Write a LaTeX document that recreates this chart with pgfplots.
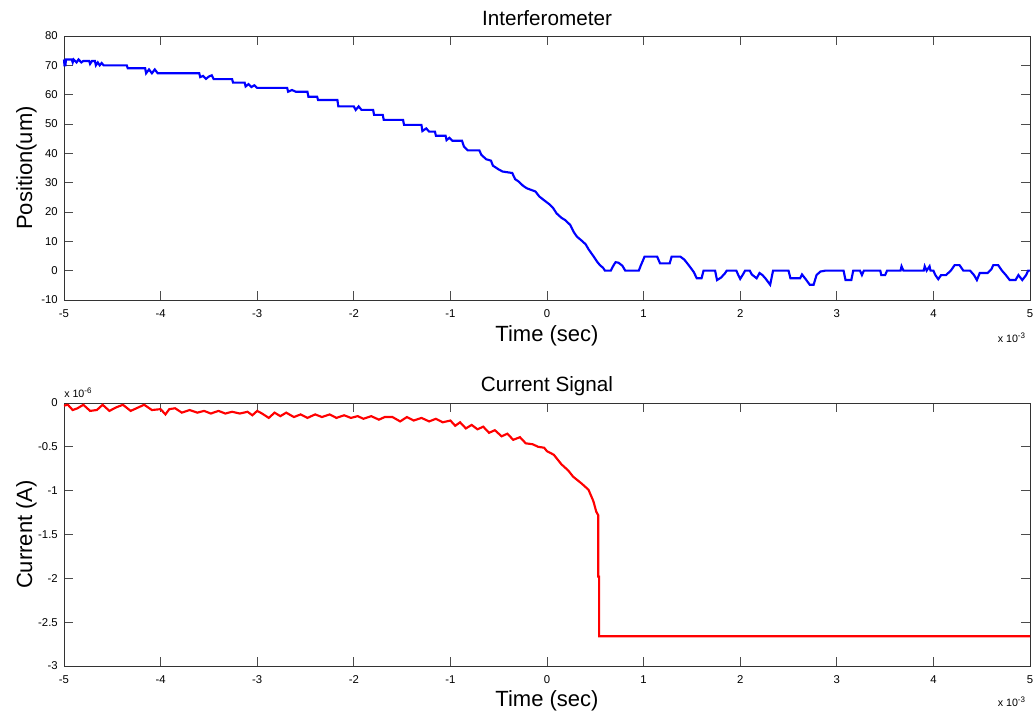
\documentclass[border=0pt]{standalone}
\usepackage{fontspec}
\setmainfont{Liberation Sans}
\usepackage{pgfplots}
\pgfplotsset{compat=1.18}

% MATLAB-like subplot style (1px of the reference = 0.75pt)
\pgfplotsset{mlab/.style={
    scale only axis, width=724.5pt, clip=false,
    xmin=-5, xmax=5, xtick={-5,...,5},
    axis line style={black!80, line width=0.75pt},
    tick style={black!70, line width=0.6pt},
    major tick length=7pt, tick align=inside,
    ticklabel style={font=\fontsize{8.5}{10}\selectfont},
    /pgf/number format/assume math mode=true,
    scaled ticks=false,
    xticklabel style={anchor=base, yshift=-12.75pt},
    yticklabel style={anchor=east, inner sep=0pt, xshift=-4.5pt},
}}
\newcommand{\ttl}{\fontsize{15.5}{18}\selectfont}
\newcommand{\lbl}{\fontsize{16.5}{19}\selectfont}
\newcommand{\sml}{\fontsize{8}{10}\selectfont}

\begin{document}
\begin{tikzpicture}
\useasboundingbox (0,0) rectangle (775.5pt,536.25pt);

% ---- Interferometer ----
\begin{axis}[mlab, at={(48pt,311.25pt)}, anchor=south west, height=198pt,
    ymin=-10, ymax=80, ytick={-10,0,...,80}]
  \addplot[color={rgb,255:red,0;green,0;blue,255}, line width=1.6pt] coordinates {
    (-5.00,72)(-4.995,70)(-4.985,70)(-4.98,72)(-4.92,72)(-4.91,71)(-4.90,72)(-4.87,71)(-4.85,72)
    (-4.82,71)(-4.80,71.5)(-4.74,71.5)(-4.73,70.5)(-4.71,71.5)(-4.68,71.5)(-4.67,70)(-4.65,71)
    (-4.63,70)(-4.61,70.8)(-4.59,70)(-4.35,70)(-4.34,69)(-4.16,69)(-4.15,67.3)(-4.12,68.6)
    (-4.09,67.3)(-4.06,68.6)(-4.03,67.3)(-3.60,67.3)(-3.59,66)(-3.56,66.4)(-3.53,65.4)(-3.50,66.2)
    (-3.47,66.6)(-3.45,65.3)(-3.26,65.3)(-3.25,64.1)(-3.13,64.1)(-3.12,62.8)(-3.09,63.6)(-3.06,62.6)
    (-3.03,63.2)(-3.00,62.3)(-2.69,62.3)(-2.68,61.0)(-2.64,61.6)(-2.60,61.0)(-2.48,61.0)(-2.47,59.3)
    (-2.38,59.3)(-2.37,58.2)(-2.17,58.2)(-2.16,56.0)(-2.00,56.0)(-1.98,54.8)(-1.95,56)(-1.92,54.8)
    (-1.80,54.8)(-1.79,53.1)(-1.70,53.1)(-1.69,51.4)(-1.49,51.4)(-1.48,49.7)(-1.30,49.7)(-1.29,47.6)
    (-1.25,48.5)(-1.22,47.4)(-1.16,47.4)(-1.15,46.0)(-1.05,46.0)(-1.04,44.5)(-1.01,45.3)(-0.98,44.3)
    (-0.88,44.3)(-0.86,42.3)(-0.82,41.0)(-0.70,41.0)(-0.68,39.5)(-0.63,38.0)(-0.58,37.5)(-0.56,35.8)
    (-0.50,34.5)(-0.46,33.8)(-0.36,33.3)(-0.33,31.2)(-0.29,30.3)(-0.25,29.0)(-0.21,28.1)(-0.12,27.0)
    (-0.08,25.3)(-0.03,24.0)(0.03,22.5)(0.06,21.5)(0.10,19.5)(0.15,18.0)(0.19,17.2)(0.24,15.6)
    (0.28,13.0)(0.31,11.6)(0.36,10.2)(0.40,9.0)(0.43,7.3)(0.46,5.9)(0.49,4.5)(0.52,3.0)(0.55,1.8)
    (0.58,1.0)(0.60,0)(0.66,0)(0.69,1.9)(0.71,2.9)(0.74,2.7)(0.78,1.7)(0.81,0)(0.95,0)(0.97,1.7)
    (1.01,4.8)(1.14,4.8)(1.17,2.5)(1.27,2.5)(1.29,4.8)(1.38,4.8)(1.42,3.8)(1.44,3.0)(1.48,1.3)
    (1.52,-0.5)(1.55,-2.6)(1.60,-2.6)(1.62,0)(1.74,0)(1.76,-3.2)(1.80,-2.4)(1.84,-1.0)(1.86,0)
    (1.96,0)(1.98,-1.5)(2.00,-2.8)(2.03,-1.2)(2.05,0)(2.10,0)(2.12,-1.3)(2.17,-2.6)(2.20,-0.8)
    (2.23,-1.5)(2.26,-2.6)(2.31,-4.8)(2.34,0)(2.50,0)(2.52,-2.6)(2.62,-2.6)(2.64,-1.3)(2.68,-3.0)
    (2.72,-4.8)(2.76,-4.8)(2.79,-1.5)(2.83,-0.3)(2.88,0)(3.07,0)(3.09,-3.2)(3.15,-3.2)(3.17,0)
    (3.24,0)(3.26,-1.5)(3.28,0)(3.45,0)(3.46,-1.5)(3.50,-1.5)(3.52,0)(3.66,0)(3.67,1.5)(3.69,0)
    (3.90,0)(3.91,1.5)(3.93,0)(3.96,1.5)(3.97,0)(4.00,0)(4.02,-1.5)(4.05,-2.9)(4.08,-1.5)(4.13,-1.5)
    (4.18,0)(4.22,1.9)(4.27,1.9)(4.31,0)(4.38,0)(4.42,-1.5)(4.45,-3.2)(4.48,-0.8)(4.56,-0.8)
    (4.60,0.5)(4.62,1.9)(4.67,1.9)(4.71,0)(4.75,-1.5)(4.79,-3.2)(4.85,-3.2)(4.88,-1.5)(4.92,-3.2)
    (4.96,-1.5)(4.98,0)(5.00,0)
  };
  \node[font=\ttl, anchor=base] at ([yshift=7.8pt]rel axis cs:0.5,1) {Interferometer};
  \node[font=\lbl, anchor=base] at ([yshift=-31pt]rel axis cs:0.5,0) {Time (sec)};
  \node[font=\lbl, anchor=base, rotate=90] at ([xshift=-24pt]rel axis cs:0,0.5) {Position(um)};
  \node[font=\sml, anchor=base east, inner sep=0pt] at ([xshift=-3pt,yshift=-32pt]rel axis cs:1,0) {x 10\textsuperscript{-3}};
\end{axis}

% ---- Current Signal ----
\begin{axis}[mlab, at={(48pt,36.75pt)}, anchor=south west, height=197.25pt,
    ymin=-3, ymax=0, ytick={-3,-2.5,...,0}]
  \addplot[color={rgb,255:red,255;green,0;blue,0}, line width=1.6pt] coordinates {
    (-5.00,-0.03)(-4.96,-0.02)(-4.91,-0.08)(-4.86,-0.06)(-4.80,-0.02)(-4.73,-0.09)(-4.66,-0.08)
    (-4.60,-0.02)(-4.53,-0.09)(-4.46,-0.05)(-4.39,-0.02)(-4.31,-0.09)(-4.23,-0.05)(-4.17,-0.02)
    (-4.09,-0.08)(-4.00,-0.07)(-3.95,-0.13)(-3.91,-0.07)(-3.85,-0.06)(-3.78,-0.11)(-3.70,-0.08)
    (-3.62,-0.11)(-3.55,-0.09)(-3.48,-0.12)(-3.40,-0.09)(-3.33,-0.12)(-3.26,-0.10)(-3.18,-0.12)
    (-3.10,-0.10)(-3.05,-0.14)(-3.00,-0.09)(-2.95,-0.12)(-2.88,-0.17)(-2.82,-0.11)(-2.76,-0.15)
    (-2.70,-0.11)(-2.62,-0.16)(-2.55,-0.13)(-2.48,-0.17)(-2.40,-0.13)(-2.33,-0.16)(-2.25,-0.13)
    (-2.18,-0.17)(-2.10,-0.14)(-2.03,-0.17)(-1.96,-0.15)(-1.90,-0.18)(-1.82,-0.15)(-1.74,-0.19)
    (-1.68,-0.16)(-1.60,-0.16)(-1.52,-0.21)(-1.45,-0.16)(-1.38,-0.20)(-1.30,-0.17)(-1.22,-0.21)
    (-1.15,-0.18)(-1.08,-0.22)(-1.00,-0.20)(-0.95,-0.26)(-0.90,-0.22)(-0.84,-0.29)(-0.78,-0.25)
    (-0.72,-0.30)(-0.66,-0.27)(-0.60,-0.34)(-0.54,-0.31)(-0.47,-0.38)(-0.41,-0.35)(-0.35,-0.42)
    (-0.28,-0.39)(-0.22,-0.46)(-0.15,-0.47)(-0.09,-0.50)(-0.03,-0.51)(0.00,-0.55)(0.07,-0.59)
    (0.15,-0.70)(0.22,-0.77)(0.27,-0.84)(0.36,-0.92)(0.43,-0.99)(0.48,-1.12)(0.51,-1.24)
    (0.53,-1.28)(0.53,-1.98)(0.54,-1.98)(0.54,-2.66)(5.00,-2.66)
  };
  \node[font=\ttl, anchor=base] at ([yshift=8.5pt]rel axis cs:0.5,1) {Current Signal};
  \node[font=\lbl, anchor=base] at ([yshift=-30pt]rel axis cs:0.5,0) {Time (sec)};
  \node[font=\lbl, anchor=base, rotate=90] at ([xshift=-24pt]rel axis cs:0,0.5) {Current (A)};
  \node[font=\sml, anchor=base east, inner sep=0pt] at ([xshift=-3pt,yshift=-30pt]rel axis cs:1,0) {x 10\textsuperscript{-3}};
  \node[font=\sml, anchor=base west, inner sep=0pt] at ([yshift=4.5pt]rel axis cs:0,1) {x 10\textsuperscript{-6}};
\end{axis}
\end{tikzpicture}
\end{document}
